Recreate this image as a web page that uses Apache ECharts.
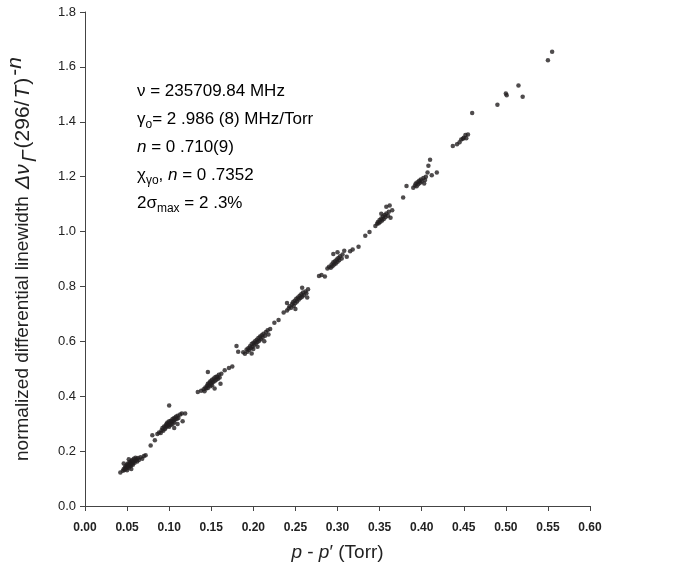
<!DOCTYPE html>
<html>
<head>
<meta charset="utf-8">
<script src="https://cdn.jsdelivr.net/npm/echarts@6/dist/echarts.min.js"></script>
<style>
  html, body { margin: 0; padding: 0; background: #fff; }
  #chart { width: 673px; height: 572px; }
</style>
</head>
<body>
<div id="chart"></div>
<script>
// measured points, grouped by the pressure step they were taken at: [p - p' (Torr), normalized linewidth]
const cluster05 = [
  [0.042,0.122],[0.045,0.128],[0.046,0.135],[0.047,0.131],[0.048,0.140],[0.048,0.145],[0.049,0.137],[0.050,0.142],
  [0.050,0.150],[0.051,0.146],[0.051,0.155],[0.052,0.139],[0.052,0.148],[0.053,0.152],[0.053,0.160],[0.054,0.145],
  [0.054,0.157],[0.055,0.150],[0.055,0.163],[0.056,0.155],[0.056,0.168],[0.057,0.160],[0.057,0.150],[0.058,0.164],
  [0.058,0.172],[0.059,0.158],[0.060,0.166],[0.060,0.176],[0.061,0.170],[0.062,0.162],[0.063,0.175],[0.064,0.168],
  [0.066,0.178],[0.068,0.172],[0.070,0.182],[0.072,0.185],[0.055,0.135],[0.050,0.130],[0.046,0.155],[0.052,0.170],
  [0.078,0.220],[0.080,0.258],[0.083,0.240],[0.086,0.262]
];
const cluster10 = [
  [0.088,0.268],[0.090,0.266],[0.091,0.276],[0.092,0.284],[0.093,0.274],[0.094,0.290],[0.095,0.281],[0.096,0.294],
  [0.096,0.286],[0.097,0.300],[0.098,0.291],[0.098,0.304],[0.099,0.297],[0.100,0.309],[0.100,0.289],[0.101,0.301],
  [0.102,0.311],[0.102,0.295],[0.103,0.307],[0.104,0.317],[0.104,0.299],[0.105,0.311],[0.106,0.321],[0.106,0.304],
  [0.107,0.315],[0.108,0.325],[0.109,0.317],[0.110,0.329],[0.111,0.321],[0.113,0.333],[0.115,0.337],[0.106,0.284],
  [0.110,0.299],[0.100,0.366],[0.119,0.337],[0.116,0.309]
];
const cluster15 = [
  [0.134,0.415],[0.138,0.420],[0.141,0.425],[0.142,0.418],[0.143,0.432],[0.144,0.428],[0.145,0.438],[0.146,0.430],
  [0.146,0.445],[0.147,0.440],[0.148,0.450],[0.149,0.436],[0.149,0.455],[0.150,0.446],[0.151,0.460],[0.151,0.440],
  [0.152,0.452],[0.153,0.465],[0.154,0.455],[0.155,0.470],[0.156,0.460],[0.157,0.472],[0.158,0.464],[0.159,0.478],
  [0.160,0.468],[0.162,0.482],[0.146,0.488],[0.154,0.428],[0.161,0.445],[0.166,0.495],[0.171,0.503],[0.175,0.508]
];
const cluster20 = [
  [0.180,0.583],[0.182,0.562],
  [0.188,0.560],[0.190,0.555],[0.192,0.570],[0.193,0.562],[0.194,0.575],[0.195,0.568],[0.196,0.582],[0.197,0.575],
  [0.198,0.590],[0.199,0.580],[0.200,0.595],[0.200,0.572],[0.201,0.588],[0.202,0.600],[0.203,0.592],[0.204,0.606],
  [0.205,0.598],[0.206,0.612],[0.207,0.602],[0.208,0.618],[0.209,0.608],[0.210,0.622],[0.211,0.614],[0.212,0.628],
  [0.214,0.620],[0.215,0.634],[0.217,0.640],[0.213,0.600],[0.205,0.580],[0.198,0.556],[0.220,0.645],[0.225,0.668],
  [0.230,0.678],[0.218,0.625]
];
const cluster25 = [
  [0.236,0.705],[0.240,0.712],[0.242,0.720],[0.243,0.728],[0.245,0.722],[0.246,0.735],[0.247,0.742],[0.248,0.730],
  [0.249,0.748],[0.250,0.740],[0.251,0.755],[0.252,0.745],[0.253,0.760],[0.254,0.752],[0.255,0.766],[0.256,0.758],
  [0.257,0.772],[0.258,0.762],[0.259,0.778],[0.260,0.768],[0.262,0.782],[0.263,0.775],[0.265,0.790],[0.240,0.740],
  [0.250,0.718],[0.258,0.795],[0.264,0.760],
  [0.278,0.838],[0.281,0.842],[0.285,0.836]
];
const cluster30 = [
  [0.288,0.865],[0.290,0.872],[0.292,0.868],[0.293,0.880],[0.294,0.874],[0.295,0.888],[0.296,0.880],[0.297,0.892],
  [0.298,0.884],[0.299,0.898],[0.300,0.890],[0.301,0.904],[0.302,0.895],[0.303,0.910],[0.305,0.902],[0.306,0.916],
  [0.300,0.925],[0.295,0.918],[0.308,0.930],[0.311,0.908],[0.315,0.928],[0.318,0.935],
  [0.325,0.945],[0.333,0.985],[0.338,0.998]
];
const cluster35 = [
  [0.345,1.020],[0.347,1.028],[0.348,1.035],[0.349,1.030],[0.350,1.042],[0.351,1.036],[0.352,1.048],[0.353,1.040],
  [0.354,1.055],[0.355,1.046],[0.356,1.060],[0.357,1.052],[0.358,1.066],[0.360,1.058],[0.361,1.072],[0.358,1.090],
  [0.362,1.095],[0.365,1.078],[0.352,1.065],[0.363,1.050],
  [0.378,1.124],[0.382,1.166]
];
const cluster40 = [
  [0.390,1.160],[0.392,1.168],[0.393,1.175],[0.394,1.165],[0.395,1.180],[0.396,1.172],[0.397,1.185],[0.398,1.178],
  [0.399,1.190],[0.400,1.182],[0.402,1.195],[0.404,1.188],[0.405,1.200],[0.407,1.215],[0.410,1.262],[0.408,1.240],
  [0.412,1.205],[0.418,1.215],[0.403,1.175]
];
const highPressure = [
  [0.437,1.312],[0.442,1.318],[0.445,1.325],[0.447,1.335],[0.449,1.338],[0.450,1.342],[0.452,1.352],[0.455,1.354],
  [0.453,1.340],[0.460,1.432],[0.490,1.462],[0.500,1.503],[0.501,1.497],[0.515,1.532],[0.520,1.491],
  [0.550,1.624],[0.555,1.655]
];

const annotationLines = [
  "{t|ν = 235709.84 MHz}",
  "{t|γ}{sub|o}{t|= 2 .986 (8) MHz/Torr}",
  "{it|n}{t| = 0 .710(9)}",
  "{t|χ}{sub|γo}{t|, }{it|n}{t| = 0 .7352}",
  "{t|2σ}{sub|max}{t| = 2 .3%}"
];

const FONT = "'Liberation Sans', Arial, sans-serif";
const INK = "#222";
const points = [].concat(cluster05, cluster10, cluster15, cluster20, cluster25,
  cluster30, cluster35, cluster40, highPressure);

const chart = echarts.init(document.getElementById("chart"));

const textRich = {
  t: { fontSize: 17, fontFamily: FONT, color: INK, lineHeight: 22 },
  it: { fontSize: 17, fontFamily: FONT, fontStyle: "italic", color: INK, lineHeight: 22 },
  sub: { fontSize: 12, fontFamily: FONT, color: INK, lineHeight: 22, verticalAlign: "bottom" }
};

const options = {
  animation: false,
  grid: { left: 85, right: 83, top: 12, bottom: 66, containLabel: false, outerBoundsMode: "none" },
  xAxis: {
    type: "value",
    min: 0,
    max: 0.6,
    interval: 0.05,
    splitLine: { show: false },
    axisLine: { show: true, onZero: false, lineStyle: { color: "#444", width: 1 } },
    axisTick: { show: true, length: 5, lineStyle: { color: "#444" } },
    axisLabel: {
      margin: 16,
      color: INK,
      fontSize: 12,
      fontWeight: "bold",
      fontFamily: FONT,
      formatter: (v) => v.toFixed(2),
    },
    name: "{i|p}{r| - }{i|p}{r|′ (Torr)}",
    nameLocation: "middle",
    nameGap: 37,
    nameTextStyle: {
      rich: {
        i: { fontSize: 19, fontStyle: "italic", fontFamily: FONT, color: INK },
        r: { fontSize: 19, fontFamily: FONT, color: INK },
      },
    },
  },
  yAxis: {
    type: "value",
    min: 0,
    max: 1.8,
    interval: 0.2,
    splitLine: { show: false },
    axisLine: { show: true, onZero: false, lineStyle: { color: "#444", width: 1 } },
    axisTick: { show: true, length: 5, lineStyle: { color: "#444" } },
    axisLabel: {
      margin: 9,
      color: INK,
      fontSize: 13,
      fontFamily: FONT,
      formatter: (v) => v.toFixed(1),
    },
    name: "{r|normalized differential linewidth }{i|Δν}{sub|Γ}{s|(296/}{i|T}{s|)}{sup|-}{supi|n}",
    nameLocation: "middle",
    nameRotate: 90,
    nameGap: 44,
    nameTextStyle: {
      rich: {
        r: { fontSize: 19, fontFamily: FONT, color: INK, lineHeight: 36 },
        s: { fontSize: 21, fontFamily: FONT, color: INK, lineHeight: 36 },
        i: { fontSize: 21, fontStyle: "italic", fontFamily: FONT, color: INK, lineHeight: 36, padding: [0, 1, 0, 2] },
        sub: { fontSize: 21, fontStyle: "italic", fontFamily: FONT, color: INK, lineHeight: 26, verticalAlign: "bottom", padding: [0, 2, 0, 1] },
        sup: { fontSize: 21, fontFamily: FONT, color: INK, lineHeight: 20, verticalAlign: "top", padding: [0, 0, 0, 2] },
        supi: { fontSize: 21, fontStyle: "italic", fontFamily: FONT, color: INK, lineHeight: 20, verticalAlign: "top" },
      },
    },
  },
  graphic: annotationLines.map((line, i) => ({
    type: "text",
    left: 137,
    top: 83 + i * 28,
    style: { text: line, rich: textRich },
  })),
  series: [
    {
      type: "scatter",
      data: points,
      symbol: "circle",
      symbolSize: 4.5,
      itemStyle: { color: "#231f20" },
    },
  ],
};

chart.setOption(options);
</script>
</body>
</html>
